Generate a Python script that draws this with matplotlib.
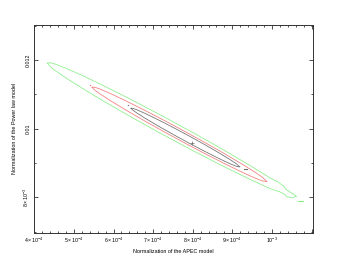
import numpy as np
import matplotlib
matplotlib.use("Agg")
import matplotlib.pyplot as plt
from matplotlib.ticker import MultipleLocator, FuncFormatter

# contour edges
# x in units of 1e-4, y in units of 1e-3
green_up_x = [4.333, 4.396, 4.523, 4.775, 5.154, 5.659, 6.417, 7.174, 7.932, 8.689, 9.447, 9.952, 10.154, 10.306, 10.356, 10.457, 10.558, 10.621]
green_up_y = [11.909, 11.923, 11.883, 11.772, 11.580, 11.303, 10.865, 10.407, 9.933, 9.442, 8.928, 8.566, 8.448, 8.317, 8.230, 8.157, 8.084, 8.026]
green_lo_x = [4.333, 4.396, 4.523, 4.775, 5.154, 5.659, 6.417, 7.174, 7.932, 8.689, 9.447, 9.952, 10.205, 10.331, 10.381, 10.508, 10.621]
green_lo_y = [11.909, 11.816, 11.699, 11.496, 11.216, 10.864, 10.359, 9.873, 9.404, 8.953, 8.523, 8.256, 8.157, 8.084, 8.012, 7.997, 8.026]

red_x = [5.457, 5.533, 5.659, 5.912, 6.290, 6.795, 7.301, 7.806, 8.311, 8.816, 9.321, 9.573, 9.750, 9.876]
red_up = [11.209, 11.206, 11.154, 11.029, 10.823, 10.531, 10.228, 9.916, 9.594, 9.263, 8.916, 8.732, 8.593, 8.458]
red_lo = [11.209, 11.118, 11.013, 10.824, 10.558, 10.221, 9.895, 9.579, 9.271, 8.974, 8.692, 8.562, 8.481, 8.458]

gray_x = [6.442, 6.492, 6.593, 6.795, 7.174, 7.553, 7.932, 8.311, 8.689, 8.942, 9.093, 9.194]
gray_up = [10.596, 10.592, 10.549, 10.446, 10.233, 10.007, 9.773, 9.531, 9.278, 9.100, 8.985, 8.883]
gray_lo = [10.596, 10.536, 10.454, 10.306, 10.048, 9.802, 9.564, 9.335, 9.116, 8.979, 8.906, 8.883]

# little islands
green_bits_x = [10.652, 10.778]
green_bits_y = [7.895, 7.895]
red_dot = (5.407, 11.263)
gray_bits_x = [9.283, 9.359]
gray_bits_y = [8.812, 8.812]
gray_dot = (6.359, 10.681)
best_fit = (7.975, 9.592)

xlim = (4.0, 11.03)
ylim = (6.97, 13.02)

plt.rcParams['font.family'] = ['Liberation Sans', 'DejaVu Sans']
plt.rcParams['mathtext.fontset'] = 'custom'
plt.rcParams['mathtext.rm'] = 'Liberation Sans'
plt.rcParams['mathtext.it'] = 'Liberation Sans'

fig = plt.figure(figsize=(3.47, 2.58), dpi=100)
ax = fig.add_axes([34.3/347, 1-232.7/258, (312.7-34.3)/347, (232.7-25)/258])

def ring(x, up, lo):
	xs = np.array(list(x) + list(x[::-1])) * 1e-4
	ys = np.array(list(up) + list(lo[::-1])) * 1e-3
	return xs, ys

green = '#88ee88'
red = '#f27a7a'
gray = '#6e6e6e'
lw = 0.55

xs = np.array(green_up_x + green_lo_x[::-1]) * 1e-4
ys = np.array(green_up_y + green_lo_y[::-1]) * 1e-3
ax.plot(xs, ys, color=green, lw=lw)
xs, ys = ring(red_x, red_up, red_lo)
ax.plot(xs, ys, color=red, lw=lw)
xs, ys = ring(gray_x, gray_up, gray_lo)
ax.plot(xs, ys, color=gray, lw=lw)

ax.plot(np.array(green_bits_x)*1e-4, np.array(green_bits_y)*1e-3, color=green, lw=0.8)
ax.plot(np.array(gray_bits_x)*1e-4, np.array(gray_bits_y)*1e-3, color=gray, lw=0.8)
ax.plot(red_dot[0]*1e-4, red_dot[1]*1e-3, 's', color=red, ms=0.8, mew=0)
ax.plot(gray_dot[0]*1e-4, gray_dot[1]*1e-3, 's', color=gray, ms=0.8, mew=0)
ax.plot(best_fit[0]*1e-4, best_fit[1]*1e-3, '+', color=gray, ms=2.2, mew=0.5)

ax.set_xlim(xlim[0]*1e-4, xlim[1]*1e-4)
ax.set_ylim(ylim[0]*1e-3, ylim[1]*1e-3)

def xfmt(v, pos):
	m = round(v / 1e-4)
	if m == 10:
		return r'$10^{-3}$'
	if m > 10:
		return ''
	return r'$%d\times10^{-4}$' % m

def yfmt(v, pos):
	m = round(v / 1e-3)
	if m == 8:
		return r'$8\times10^{-3}$'
	return '%g' % (m / 1000.0)

ax.xaxis.set_major_locator(MultipleLocator(1e-4))
ax.xaxis.set_minor_locator(MultipleLocator(2e-5))
ax.yaxis.set_major_locator(MultipleLocator(2e-3))
ax.yaxis.set_minor_locator(MultipleLocator(1e-3))
ax.xaxis.set_major_formatter(FuncFormatter(xfmt))
ax.yaxis.set_major_formatter(FuncFormatter(yfmt))

ax.tick_params(which='both', direction='in', top=True, right=True, width=0.6, color='#333333', labelsize=3.8, pad=2.5)
ax.tick_params(which='major', length=3)
ax.tick_params(which='minor', length=1.6)
for lab in ax.get_yticklabels():
	lab.set_rotation(90)
	lab.set_va('center')
for s in ax.spines.values():
	s.set_linewidth(0.7)
	s.set_color('#333333')

ax.set_xlabel('Normalization of the APEC model', fontsize=3.9, labelpad=2.5)
ax.set_ylabel('Normalization of the Power law model', fontsize=3.9, labelpad=3)

fig.savefig('out.png', dpi=100)
